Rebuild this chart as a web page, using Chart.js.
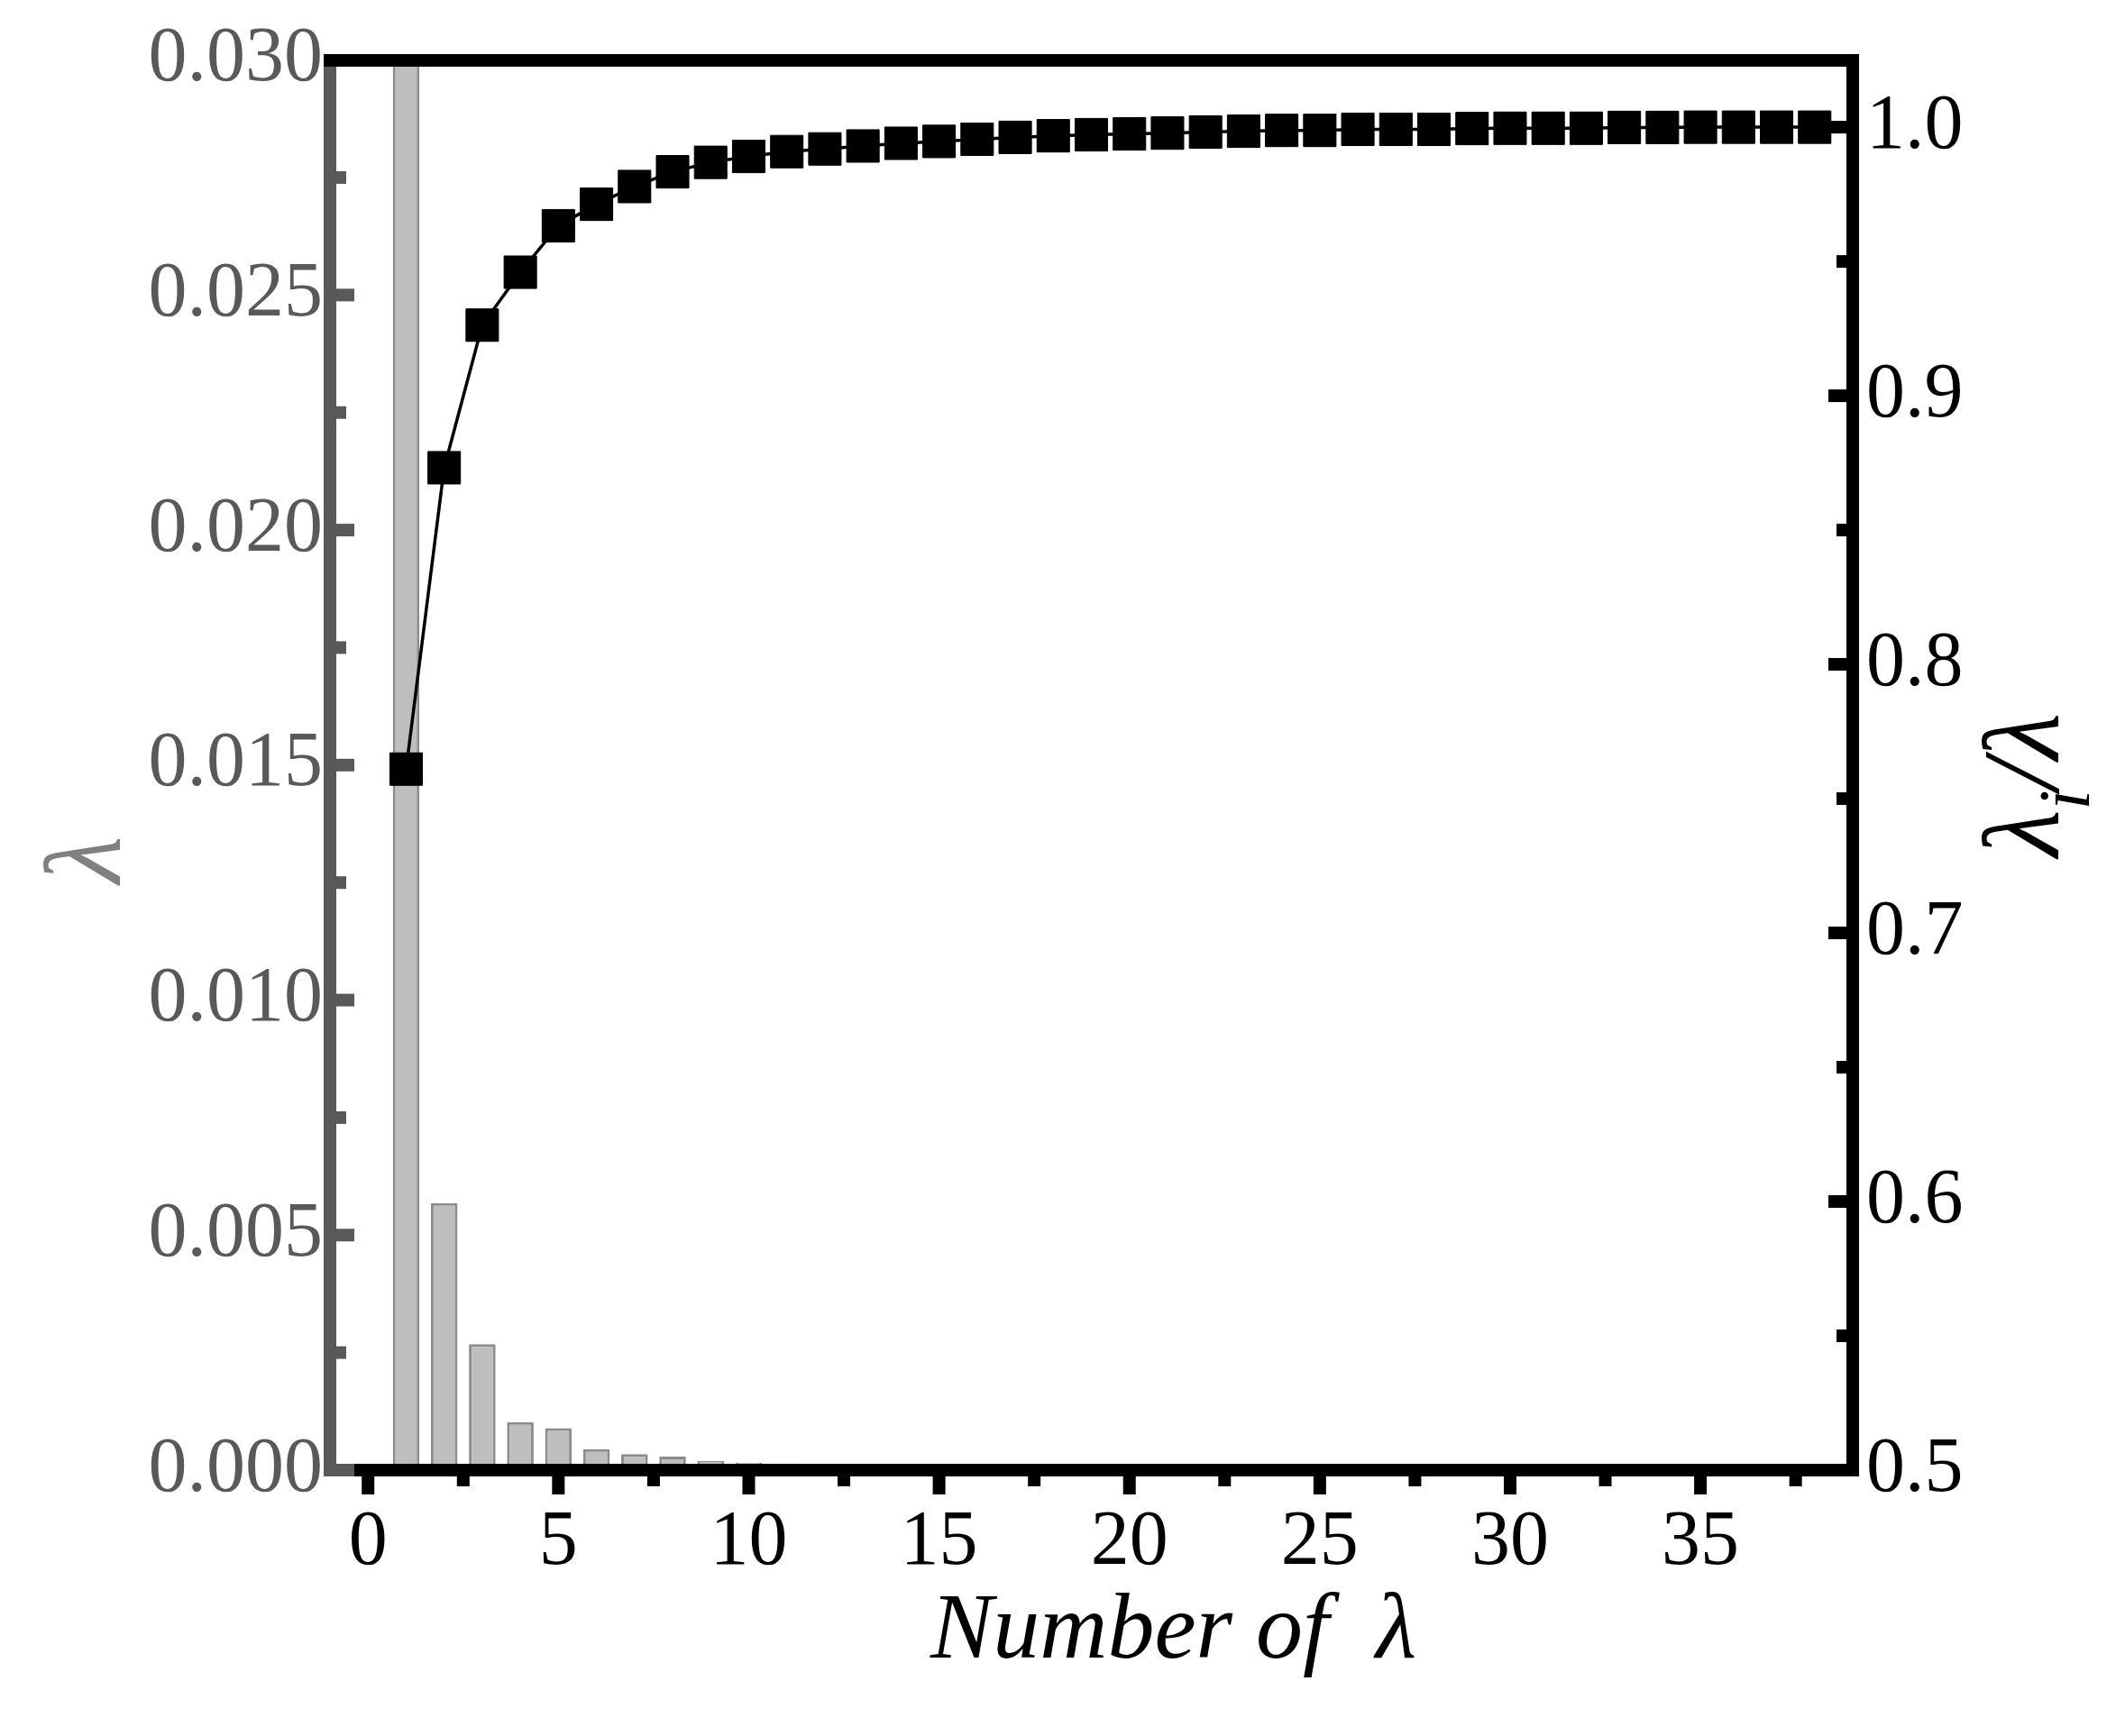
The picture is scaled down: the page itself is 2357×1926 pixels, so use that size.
<!DOCTYPE html>
<html>
<head>
<meta charset="utf-8">
<script src="https://cdn.jsdelivr.net/npm/chart.js@4/dist/chart.umd.min.js"></script>
<style>
  html, body { margin: 0; padding: 0; background: #fff; }
</style>
</head>
<body>
<canvas id="myChart" width="2357" height="1926"></canvas>
<script>
// eigenvalues (bars, left axis)
const lambdaIndex = [1, 2, 3, 4, 5, 6, 7, 8, 9, 10, 11];
const lambdaValue = [0.0385, 0.00568, 0.00268, 0.00102, 0.00089, 0.000445, 0.00034, 0.00029, 0.00019, 0.00016, 0.00014];

// cumulative contribution (line, right axis)
const ratioIndex = [1, 2, 3, 4, 5, 6, 7, 8, 9, 10, 11, 12, 13, 14, 15, 16, 17, 18, 19,
    20, 21, 22, 23, 24, 25, 26, 27, 28, 29, 30, 31, 32, 33, 34, 35, 36, 37, 38];
const cumulativeRatio = [0.761, 0.8732, 0.9263, 0.946, 0.9633, 0.9713, 0.9779, 0.9834, 0.9869, 0.9891,
    0.9909, 0.9919, 0.9930, 0.9940, 0.9947, 0.9955, 0.9962, 0.9968, 0.9972, 0.9975,
    0.9978, 0.9982, 0.9985, 0.9988, 0.9988, 0.9992, 0.9992, 0.9992, 0.9995, 0.9996,
    0.9996, 0.9996, 0.9999, 0.9999, 1.0, 1.0, 1.0, 1.0];

// tick values
const xTicks = [0, 5, 10, 15, 20, 25, 30, 35];
const xMinorTicks = [2.5, 7.5, 12.5, 17.5, 22.5, 27.5, 32.5, 37.5];
const leftTicks = [0, 0.005, 0.010, 0.015, 0.020, 0.025, 0.030];
const leftMinorTicks = [0.0025, 0.0075, 0.0125, 0.0175, 0.0225, 0.0275];
const rightTicks = [0.5, 0.6, 0.7, 0.8, 0.9, 1.0];
const rightMinorTicks = [0.55, 0.65, 0.75, 0.85, 0.95];

const GRAY = '#595959';
const SERIF = '"Liberation Serif", "Times New Roman", serif';
const tickFont = { family: SERIF, size: 86 };

function setTicks(values) {
    return (scale) => { scale.ticks = values.map(v => ({ value: v })); };
}

// inward / outward tick marks, drawn from the scales' own pixel mapping
const tickMarks = {
    id: 'tickMarks',
    afterDraw(chart) {
        const ctx = chart.ctx;
        const a = chart.chartArea;
        const { x, y, y2 } = chart.scales;
        ctx.save();
        // bottom axis, outward
        ctx.fillStyle = '#000';
        xTicks.forEach(v => ctx.fillRect(x.getPixelForValue(v) - 7, a.bottom, 14, 27));
        xMinorTicks.forEach(v => ctx.fillRect(x.getPixelForValue(v) - 7, a.bottom, 14, 18));
        // right axis, inward
        rightTicks.forEach(v => ctx.fillRect(a.right - 27, y2.getPixelForValue(v) - 7, 27, 14));
        rightMinorTicks.forEach(v => ctx.fillRect(a.right - 18, y2.getPixelForValue(v) - 7, 18, 14));
        // left axis, inward
        ctx.fillStyle = GRAY;
        leftTicks.filter(v => v < y.max).forEach(v => ctx.fillRect(a.left, y.getPixelForValue(v) - 7, 27, 14));
        leftMinorTicks.forEach(v => ctx.fillRect(a.left, y.getPixelForValue(v) - 7, 18, 14));
        ctx.restore();
    }
};

// right axis title: lambda_i / lambda, reading bottom to top
const rightTitle = {
    id: 'rightTitle',
    afterDraw(chart) {
        const ctx = chart.ctx;
        const a = chart.chartArea;
        const big = 'italic 120px ' + SERIF;
        const small = 'italic 80px ' + SERIF;
        ctx.save();
        ctx.fillStyle = '#000';
        ctx.textBaseline = 'alphabetic';
        ctx.translate(2283, (a.top + a.bottom) / 2 + 22);
        ctx.rotate(-Math.PI / 2);
        ctx.font = big;
        const w1 = ctx.measureText('λ').width;
        const w3 = ctx.measureText('/λ').width;
        ctx.font = small;
        const w2 = ctx.measureText('i').width;
        let pos = -(w1 + w2 + w3) / 2;
        ctx.font = big;
        ctx.fillText('λ', pos, 0);
        pos += w1;
        ctx.font = small;
        ctx.fillText('i', pos, 34);
        pos += w2;
        ctx.font = big;
        ctx.fillText('/λ', pos, 0);
        ctx.restore();
    }
};

new Chart(document.getElementById('myChart'), {
    type: 'bar',
    data: {
        datasets: [{
            type: 'line',
            label: 'ratio',
            data: ratioIndex.map((v, i) => ({ x: v, y: cumulativeRatio[i] })),
            xAxisID: 'x',
            yAxisID: 'y2',
            borderColor: '#000',
            borderWidth: 3.5,
            pointStyle: 'rect',
            pointRadius: 25.5,
            pointBackgroundColor: '#000',
            pointBorderColor: '#000',
            pointBorderWidth: 1,
            tension: 0,
            order: 0
        }, {
            type: 'bar',
            label: 'lambda',
            data: lambdaIndex.map((v, i) => ({ x: v, y: lambdaValue[i] })),
            xAxisID: 'x',
            yAxisID: 'y',
            backgroundColor: '#bebebe',
            borderColor: '#8c8c8c',
            borderWidth: 3,
            barPercentage: 0.7,
            categoryPercentage: 1,
            clip: 0,
            order: 1
        }]
    },
    options: {
        responsive: false,
        animation: false,
        layout: { padding: 0 },
        plugins: {
            legend: { display: false },
            tooltip: { enabled: false }
        },
        scales: {
            x: {
                type: 'linear',
                position: 'bottom',
                min: -1,
                max: 39,
                offset: false,
                afterBuildTicks: setTicks(xTicks),
                afterFit: (s) => { s.height = 295; },
                grid: { drawOnChartArea: false, drawTicks: false, lineWidth: 14 },
                border: { color: '#000', width: 14, z: 1 },
                ticks: { color: '#000', font: tickFont, padding: 30, maxRotation: 0, autoSkip: false,
                    callback: (v) => String(v) },
                title: {
                    display: true,
                    text: '       Number of  λ',
                    color: '#000',
                    font: { family: SERIF, size: 104, style: 'italic' },
                    padding: { top: 0, bottom: 52 }
                }
            },
            y: {
                type: 'linear',
                position: 'left',
                min: 0,
                max: 0.03,
                afterBuildTicks: setTicks(leftTicks),
                afterFit: (s) => { s.width = 366; },
                grid: { drawOnChartArea: false, drawTicks: false, lineWidth: 14 },
                border: { color: GRAY, width: 14, z: 1 },
                ticks: { color: GRAY, font: tickFont, padding: 8, autoSkip: false,
                    callback: (v) => v.toFixed(3) },
                title: {
                    display: true,
                    text: 'λ       ',
                    color: '#808080',
                    font: { family: SERIF, size: 120, style: 'italic' },
                    padding: { top: 29, bottom: 0 }
                }
            },
            x2: {
                type: 'linear',
                position: 'top',
                min: -1,
                max: 39,
                afterFit: (s) => { s.height = 61; },
                grid: { drawOnChartArea: false, drawTicks: false, lineWidth: 14 },
                border: { color: '#000', width: 14, z: 1 },
                ticks: { display: false }
            },
            y2: {
                type: 'linear',
                position: 'right',
                min: 0.5,
                max: 1.025,
                afterBuildTicks: setTicks(rightTicks),
                afterFit: (s) => { s.width = 302; },
                grid: { drawOnChartArea: false, drawTicks: false, lineWidth: 14 },
                border: { color: '#000', width: 14, z: 1 },
                ticks: { color: '#000', font: tickFont, padding: 15, autoSkip: false,
                    callback: (v) => v.toFixed(1) }
            }
        }
    },
    plugins: [tickMarks, rightTitle]
});
</script>
</body>
</html>
